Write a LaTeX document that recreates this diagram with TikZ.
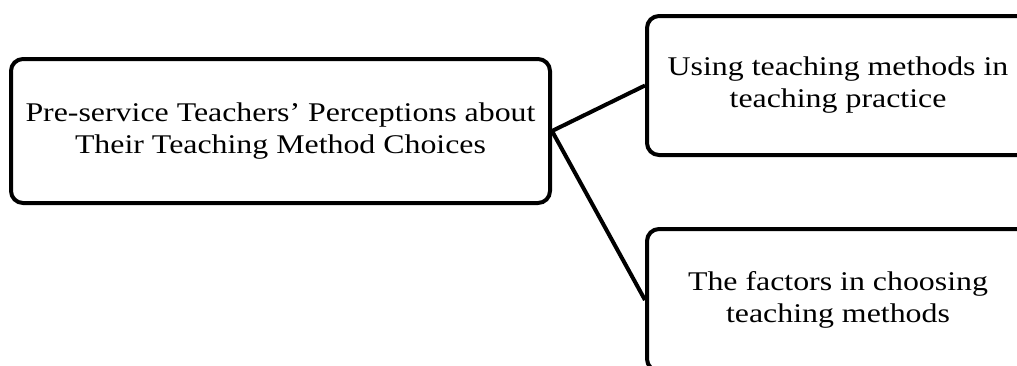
\documentclass[tikz,border=0pt]{standalone}
\usepackage{fontspec}
\usepackage{graphicx}
\setmainfont{Liberation Serif}
\newcommand{\wideline}[1]{\scalebox{1.18}[1]{#1}}
\begin{document}
\begin{tikzpicture}[x=1pt,y=-1pt,
  boxstyle/.style={draw=black, line width=4pt, rounded corners=12pt, align=center, inner sep=0pt,
    font=\fontsize{27}{32}\selectfont},
  link/.style={draw=black, line width=4pt}]
\useasboundingbox (0,0) rectangle (1017,365);
\clip (0,0) rectangle (1017,365);
\node[boxstyle, minimum width=539pt, minimum height=144pt] (root) at (280.5,131)
  {\wideline{Pre-service Teachers’ Perceptions about}\\\wideline{Their Teaching Method Choices}};
\node[boxstyle, minimum width=382pt, minimum height=139pt] (use) at (838,85.5)
  {\wideline{Using teaching methods in}\\\wideline{teaching practice}};
\node[boxstyle, minimum width=382pt, minimum height=142pt] (fac) at (838,300)
  {\wideline{The factors in choosing}\\\wideline{teaching methods}};
\draw[link] (root.east) -- (use.west);
\draw[link] (root.east) -- (fac.west);
\end{tikzpicture}
\end{document}
